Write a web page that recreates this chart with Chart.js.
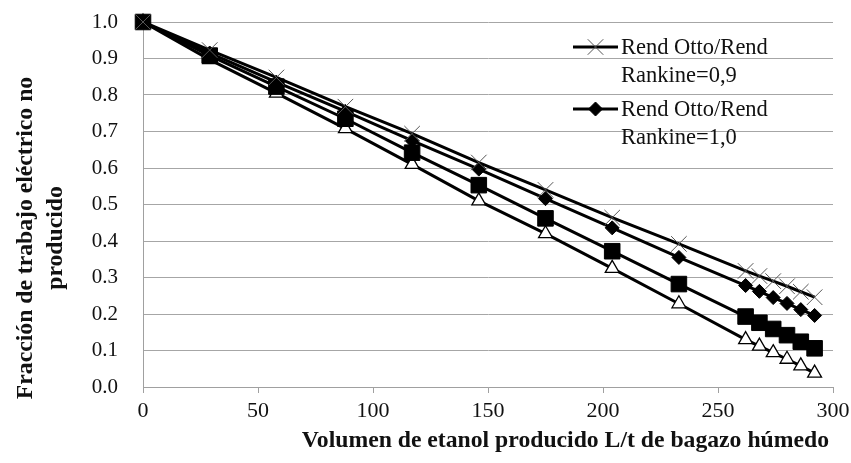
<!DOCTYPE html>
<html>
<head>
<meta charset="utf-8">
<script src="https://cdn.jsdelivr.net/npm/chart.js@4.4.0/dist/chart.umd.min.js"></script>
<style>
  html, body { margin: 0; padding: 0; background: #fff; }
  #wrap { width: 851px; height: 463px; position: relative; }
</style>
</head>
<body>
<div id="wrap"><canvas id="c"></canvas></div>
<script>
// ── Datos ────────────────────────────────────────────────────────────────
const volumen = [0, 29, 58, 88, 117, 146, 175, 204, 233, 262, 268, 274, 280, 286, 292];
const rend09  = [1.0, 0.923, 0.848, 0.768, 0.694, 0.615, 0.540, 0.464, 0.392, 0.318, 0.304, 0.290, 0.276, 0.261, 0.246];
const rend10  = [1.0, 0.915, 0.835, 0.755, 0.675, 0.597, 0.516, 0.436, 0.355, 0.278, 0.262, 0.245, 0.229, 0.212, 0.196];
const serieC  = [1.0, 0.908, 0.823, 0.735, 0.642, 0.553, 0.462, 0.372, 0.282, 0.193, 0.176, 0.159, 0.142, 0.124, 0.106];
const serieD  = [1.0, 0.897, 0.805, 0.708, 0.610, 0.510, 0.420, 0.325, 0.228, 0.130, 0.112, 0.094, 0.076, 0.058, 0.038];

const legendLabels = [['Rend Otto/Rend', 'Rankine=0,9'], ['Rend Otto/Rend', 'Rankine=1,0']];
const yTitle = ['Fracción de trabajo eléctrico no', 'producido'];
const xTitle = 'Volumen de etanol producido L/t de bagazo húmedo';

const pts = arr => arr.map((v, i) => ({ x: volumen[i], y: v }));
const SERIF = '"Liberation Serif", "DejaVu Serif", serif';

// ── Leyenda y títulos de ejes dibujados a mano ───────────────────────────
const extras = {
  id: 'extras',
  afterDraw(chart) {
    const ctx = chart.ctx;
    ctx.save();
    // leyenda (solo dos entradas visibles)
    [0, 1].forEach((di, k) => {
      const ds = chart.data.datasets[di];
      const y0 = 47 + k * 62;
      ctx.beginPath(); ctx.moveTo(573, y0); ctx.lineTo(618, y0);
      ctx.strokeStyle = '#000'; ctx.lineWidth = 3; ctx.stroke();
      ctx.fillStyle = ds.pointBackgroundColor; ctx.strokeStyle = ds.pointBorderColor;
      ctx.lineWidth = ds.pointBorderWidth;
      Chart.helpers.drawPoint(ctx, { pointStyle: ds.pointStyle, radius: ds.pointRadius, rotation: 0, borderWidth: ds.pointBorderWidth }, 595.5, y0);
      ctx.fillStyle = '#111'; ctx.font = '22.5px ' + SERIF;
      ctx.textAlign = 'left'; ctx.textBaseline = 'middle';
      legendLabels[k].forEach((t, j) => ctx.fillText(t, 621, y0 + 1 + j * 28));
    });
    // títulos
    ctx.fillStyle = '#111'; ctx.font = 'bold 23.7px ' + SERIF;
    ctx.textAlign = 'right'; ctx.textBaseline = 'middle';
    ctx.fillText(xTitle, 829, 441);
    ctx.textAlign = 'center';
    yTitle.forEach((t, j) => {
      ctx.save(); ctx.translate(26 + j * 30, 238); ctx.rotate(-Math.PI / 2);
      ctx.fillText(t, 0, 0); ctx.restore();
    });
    ctx.restore();
  }
};

const base = { borderColor: '#000', borderWidth: 3, tension: 0, clip: false, fill: false };

new Chart(document.getElementById('c'), {
  type: 'line',
  data: {
    datasets: [
      { ...base, label: legendLabels[0].join(' '), data: pts(rend09),
        pointStyle: 'crossRot', pointRadius: 11, pointBorderWidth: 1, pointBorderColor: '#555', pointBackgroundColor: '#555' },
      { ...base, label: legendLabels[1].join(' '), data: pts(rend10),
        pointStyle: 'rectRot', pointRadius: 7, pointBorderWidth: 1, pointBorderColor: '#000', pointBackgroundColor: '#000' },
      { ...base, label: '', data: pts(serieC),
        pointStyle: 'rect', pointRadius: 11, pointBorderWidth: 1, pointBorderColor: '#000', pointBackgroundColor: '#000' },
      { ...base, label: '', data: pts(serieD),
        pointStyle: 'triangle', pointRadius: 8, pointBorderWidth: 1.3, pointBorderColor: '#000', pointBackgroundColor: '#fff' }
    ]
  },
  options: {
    responsive: true,
    maintainAspectRatio: false,
    animation: false,
    layout: { padding: { top: 22, right: 18, left: 0, bottom: 0 } },
    plugins: { legend: { display: false }, tooltip: { enabled: false } },
    scales: {
      x: {
        type: 'linear', min: 0, max: 300,
        afterFit: s => { s.height = 76; s.paddingLeft = 0; s.paddingRight = 0; },
        border: { color: '#a0a0a0', width: 1 },
        grid: { drawOnChartArea: false, drawTicks: true, tickLength: 6, color: '#a0a0a0' },
        ticks: { stepSize: 50, color: '#111', padding: 5, font: { family: SERIF, size: 22 }, maxRotation: 0 }
      },
      y: {
        min: 0, max: 1,
        afterFit: s => { s.width = 143; s.paddingTop = 0; s.paddingBottom = 0; },
        border: { color: '#a0a0a0', width: 1 },
        grid: { color: '#a6a6a6', drawTicks: false },
        ticks: { stepSize: 0.1, color: '#111', padding: 25, font: { family: SERIF, size: 21 },
                 callback: v => v.toFixed(1) }
      }
    }
  },
  plugins: [extras]
});
</script>
</body>
</html>
